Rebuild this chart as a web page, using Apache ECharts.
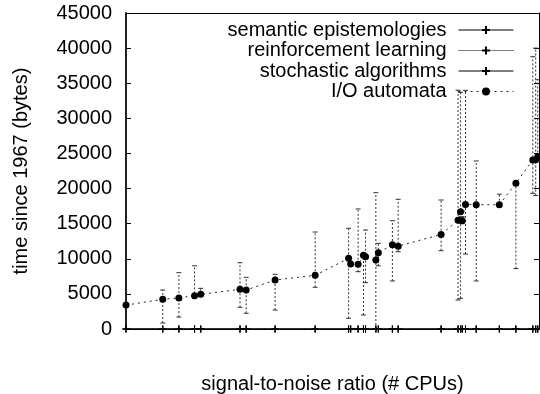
<!DOCTYPE html>
<html>
<head>
<meta charset="utf-8">
<script src="https://cdn.jsdelivr.net/npm/echarts@6/dist/echarts.min.js"></script>
<style>html,body{margin:0;padding:0;background:#fff}#c{width:540px;height:394px}</style>
</head>
<body>
<div id="c"></div>
<script>
const xValues = [0, 8.9, 12.8, 16.6, 18.1, 27.6, 29.1, 36.1, 45.8, 53.9, 54.4, 56.2, 57.5, 58.0, 60.5, 61.1, 64.5, 65.9, 76.3, 80.4, 81.0, 81.4, 82.2, 84.8, 90.4, 94.4, 98.5, 99.2, 99.7];
const ioValues = [3400, 4230, 4420, 4750, 4940, 5650, 5550, 6980, 7640, 10070, 9260, 9210, 10490, 10300, 9830, 10870, 12000, 11800, 13460, 15470, 16700, 15420, 17730, 17700, 17700, 20750, 24070, 24100, 24540];
const ioLow = [3400, 850, 1700, 4500, 4900, 3090, 2240, 2700, 5940, 1520, 9260, 8160, 1990, 6600, 0, 9000, 6840, 11000, 11150, 4130, 4370, 15000, 10680, 6840, 17700, 8600, 19320, 19000, 24000];
const ioHigh = [3400, 5550, 8020, 9000, 5790, 9440, 7360, 7790, 13810, 14340, 9260, 17090, 10490, 14100, 19410, 12200, 15420, 18470, 18370, 34000, 33700, 16000, 33990, 23930, 19200, 20750, 38780, 40000, 35500];
const semanticValues = [0,0,0,0,0,0,0,0,0,0,0,0,0,0,0,0,0,0,0,0,0,0,0,0,0,0,0,0,0];
const reinforcementValues = [0,0,0,0,0,0,0,0,0,0,0,0,0,0,0,0,0,0,0,0,0,0,0,0,0,0,0,0,0];
const stochasticValues = [0,0,0,0,0,0,0,0,0,0,0,0,0,0,0,0,0,0,0,0,0,0,0,0,0,0,0,0,0];
const seriesNames = ['semantic epistemologies', 'reinforcement learning', 'stochastic algorithms', 'I/O automata'];
const yTicks = {min: 0, max: 45000, interval: 5000};

const FONT = '"Liberation Sans", Arial, Helvetica, sans-serif';
const plus = 'path://M0,5 L10,5 M5,0 L5,10';
const pair = (vals) => xValues.map((x, i) => [x, vals[i]]);

const chart = echarts.init(document.getElementById('c'));
const plusSeries = (name, vals, lineType) => ({
  name, type: 'line', data: pair(vals),
  symbol: plus, symbolSize: 7,
  itemStyle: {color: 'none', borderColor: '#000', borderWidth: 1},
  lineStyle: {color: '#000', width: 1, type: lineType},
  z: 3
});

chart.setOption({
  animation: false,
  backgroundColor: '#fff',
  grid: {left: 126, right: 1, top: 13, bottom: 65, containLabel: false, outerBoundsMode: 'none'},
  legend: {
    orient: 'vertical', right: 21, top: 15, align: 'right',
    itemWidth: 55, itemHeight: 10, itemGap: 0.5,
    data: seriesNames,
    lineStyle: {width: 1},
    textStyle: {fontFamily: FONT, fontSize: 20, color: '#000', lineHeight: 20, padding: [0, 7, 0, 0]}
  },
  xAxis: [{
    type: 'value', min: 0, max: 100, position: 'bottom',
    name: 'signal-to-noise ratio (# CPUs)', nameLocation: 'middle', nameGap: 45,
    nameTextStyle: {fontFamily: FONT, fontSize: 20, color: '#000'},
    axisLine: {show: true, onZero: false, lineStyle: {color: '#000', width: 1}},
    axisTick: {show: false}, axisLabel: {show: false}, splitLine: {show: false}
  }, {
    type: 'value', min: 0, max: 100, position: 'top',
    axisLine: {show: true, onZero: false, lineStyle: {color: '#000', width: 1}},
    axisTick: {show: false}, axisLabel: {show: false}, splitLine: {show: false}
  }],
  yAxis: [{
    type: 'value', min: yTicks.min, max: yTicks.max, interval: yTicks.interval, position: 'left',
    name: 'time since 1967 (bytes)', nameLocation: 'middle', nameGap: 95,
    nameTextStyle: {fontFamily: FONT, fontSize: 20, color: '#000'},
    axisLine: {show: true, onZero: false, lineStyle: {color: '#222', width: 2}},
    axisTick: {show: true, inside: true, length: 5, lineStyle: {color: '#000'}},
    axisLabel: {fontFamily: FONT, fontSize: 20, color: '#000', margin: 14, formatter: (v) => String(v)},
    splitLine: {show: false}
  }, {
    type: 'value', min: yTicks.min, max: yTicks.max, interval: yTicks.interval, position: 'right',
    axisLine: {show: true, onZero: false, lineStyle: {color: '#000', width: 1}},
    axisTick: {show: true, inside: true, length: 5, lineStyle: {color: '#000'}},
    axisLabel: {show: false}, splitLine: {show: false}
  }],
  series: [
    plusSeries(seriesNames[0], semanticValues, 'solid'),
    plusSeries(seriesNames[1], reinforcementValues, [1, 1]),
    plusSeries(seriesNames[2], stochasticValues, 'solid'),
    {
      name: 'errbars', type: 'custom',
      data: xValues.map((x, i) => [x, ioLow[i], ioHigh[i]]),
      renderItem: (params, api) => {
        const x = api.value(0), lo = api.value(1), hi = api.value(2);
        if (lo === hi) return null;
        const a = api.coord([x, lo]), b = api.coord([x, hi]);
        const cap = 2.5;
        const st = {stroke: '#333', lineWidth: 1, lineDash: [2, 2]};
        return {type: 'group', children: [
          {type: 'line', shape: {x1: a[0], y1: a[1], x2: b[0], y2: b[1]}, style: st},
          {type: 'line', shape: {x1: a[0] - cap, y1: a[1], x2: a[0] + cap, y2: a[1]}, style: {stroke: '#333', lineWidth: 1}},
          {type: 'line', shape: {x1: b[0] - cap, y1: b[1], x2: b[0] + cap, y2: b[1]}, style: {stroke: '#333', lineWidth: 1}}
        ]};
      },
      z: 2
    },
    {
      name: seriesNames[3], type: 'line', data: pair(ioValues),
      symbol: 'circle', symbolSize: 7,
      itemStyle: {color: '#000'},
      lineStyle: {color: '#222', width: 1, type: [2, 4]},
      z: 4
    }
  ]
});
</script>
</body>
</html>
